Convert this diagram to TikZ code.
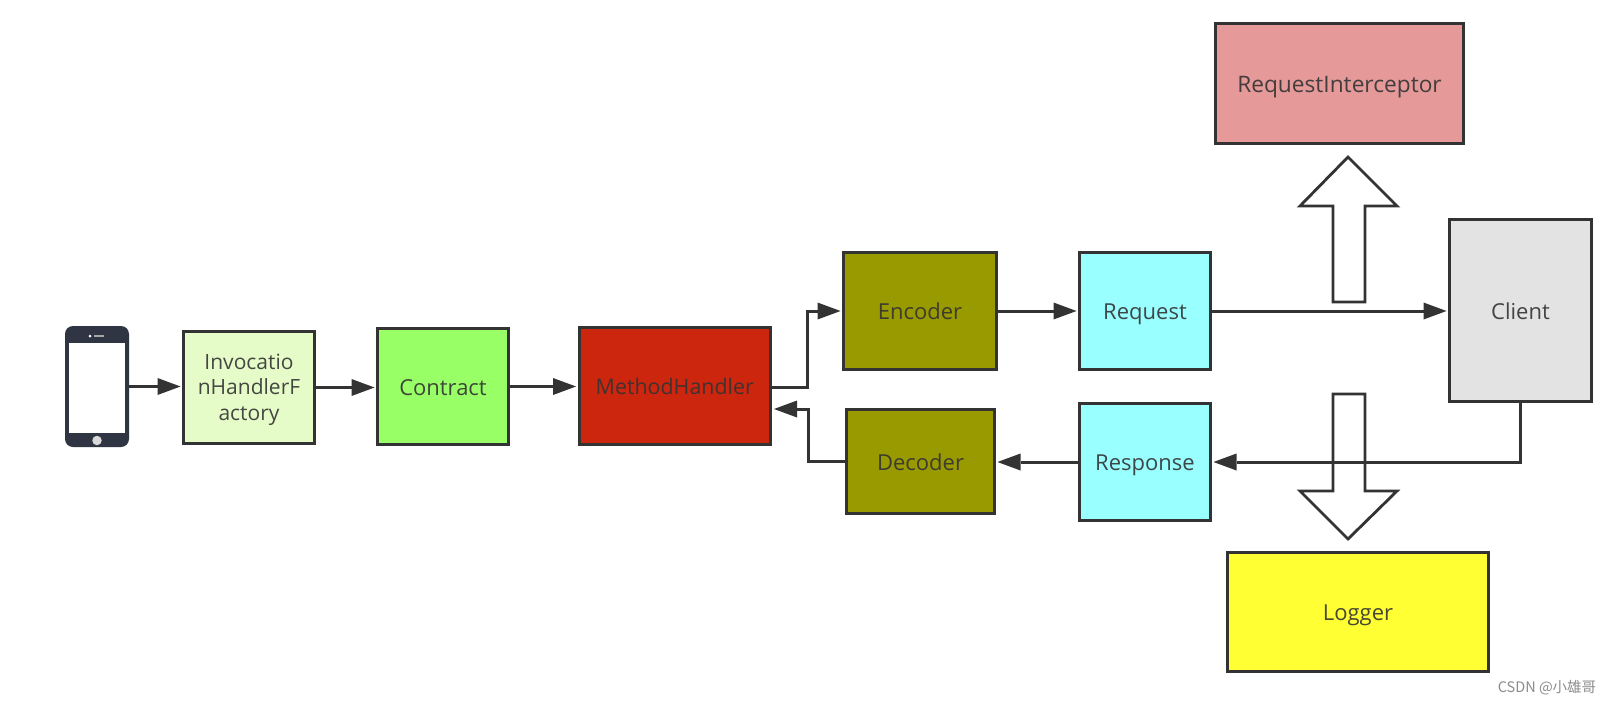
\documentclass[tikz,border=0pt]{standalone}
\usepackage{fontspec}
\setmainfont{Open Sans}
\newfontfamily\cjkwm{Noto Sans CJK SC}
\usetikzlibrary{arrows.meta}
\definecolor{ink}{HTML}{333333}
\definecolor{phonec}{HTML}{2F3542}
\definecolor{invc}{HTML}{E6FCC8}
\definecolor{contc}{HTML}{99FF66}
\definecolor{mhc}{HTML}{CC260F}
\definecolor{codec}{HTML}{999900}
\definecolor{cyanc}{HTML}{99FFFF}
\definecolor{clientc}{HTML}{E3E3E3}
\definecolor{ric}{HTML}{E69999}
\definecolor{logc}{HTML}{FFFF33}
\tikzset{
  x=1pt,y=-1pt,
  box/.style={draw=ink,line width=3pt,rectangle,inner sep=0pt,outer sep=0pt,align=center,
    font=\fontsize{22}{25.7}\selectfont,text=ink,text opacity=.9},
  oneline/.style={text height=20pt,text depth=2.5pt},
  conn/.style={draw=ink,line width=3pt,shorten >=3pt,
    -{Triangle[length=23pt,width=17pt,line width=0pt]}},
  blockarrow/.style={draw=ink,line width=2.8pt,line join=miter},
}
\newcommand{\boxat}[7]{% name, x0, y0, x1, y1, fill, text
  \node[box,oneline,fill=#6,minimum width={(#4)-(#2)-1},minimum height={(#5)-(#3)-1}] (#1) at ({((#2)+(#4))/2},{((#3)+(#5))/2}) {#7};}
\begin{document}
\begin{tikzpicture}
\useasboundingbox[fill=white] (0,0) rectangle (1612,704);
% phone
\node[draw=none,fill=phonec,rounded corners=8pt,minimum width=64pt,minimum height=121pt,inner sep=0pt,outer sep=0pt] (phone) at (97,386.5) {};
\node[fill=white,minimum width=56pt,minimum height=90pt,inner sep=0pt] (screen) at (97,388) {};
\node[fill=black!15,circle,minimum size=9.5pt,inner sep=0pt] (homebtn) at (97,440.5) {};
\node[fill=gray!70,minimum width=10pt,minimum height=1.6pt,inner sep=0pt] (speaker) at (99,336) {};
\node[fill=white,circle,minimum size=3pt,inner sep=0pt] (camera) at (90,336) {};
% boxes
\node[box,fill=invc,font=\fontsize{21}{25.7}\selectfont,minimum width=131pt,minimum height=112pt] (inv) at (249,387.5) {\rule{0pt}{20pt}Invocatio\\nHandlerF\\actory};
\boxat{contract}{377}{328}{509}{445}{contc}{Contract}
\boxat{mh}{578.5}{327}{771}{445}{mhc}{\fontsize{21.4}{25}\selectfont MethodHandler}
\boxat{enc}{843}{252}{997}{370}{codec}{Encoder}
\boxat{dec}{846}{409}{995}{514}{codec}{Decoder}
\boxat{req}{1079}{252}{1211}{370}{cyanc}{Request}
\boxat{resp}{1079}{403}{1211}{521}{cyanc}{Response}
\boxat{client}{1449}{219}{1592}{402}{clientc}{Client}
\boxat{ri}{1215}{23}{1464}{144}{ric}{\fontsize{22.7}{25}\selectfont RequestInterceptor}
\boxat{logger}{1227}{552}{1489}{672}{logc}{Logger}
% helpers
\coordinate (mhout) at (771,387);
\coordinate (bendA) at (807,387);
\coordinate (mhin) at (771,409);
\coordinate (bendC) at (808,409);
% connectors
\path[conn] (phone.east) -- (phone.east -| inv.west);
\path[conn] (inv.east) -- (inv.east -| contract.west);
\path[conn] (contract.east) -- (contract.east -| mh.west);
\path[conn] (mhout) -- (bendA) |- (enc.west);
\path[conn] (enc.east) -- (req.west);
\path[conn] (req.east) -- (req.east -| client.west);
\path[conn] (client.south) |- (resp.east);
\path[conn] (resp.west) -- (resp.west -| dec.east);
\path[conn] (dec.west) -| (bendC) -- (mhin);
% block arrows
\draw[blockarrow] (1348,157) -- (1397,206) -- (1365,206) -- (1365,302) -- (1333,302) -- (1333,206) -- (1300,206) -- cycle;
\draw[blockarrow] (1348,539) -- (1397,491) -- (1365,491) -- (1365,394) -- (1333,394) -- (1333,491) -- (1300,491) -- cycle;
% watermark
\node[text=black!45,font=\cjkwm\fontsize{14.5}{16}\selectfont,inner sep=0pt] (wm) at (1547,688) {CSDN @小雄哥};
\end{tikzpicture}
\end{document}
